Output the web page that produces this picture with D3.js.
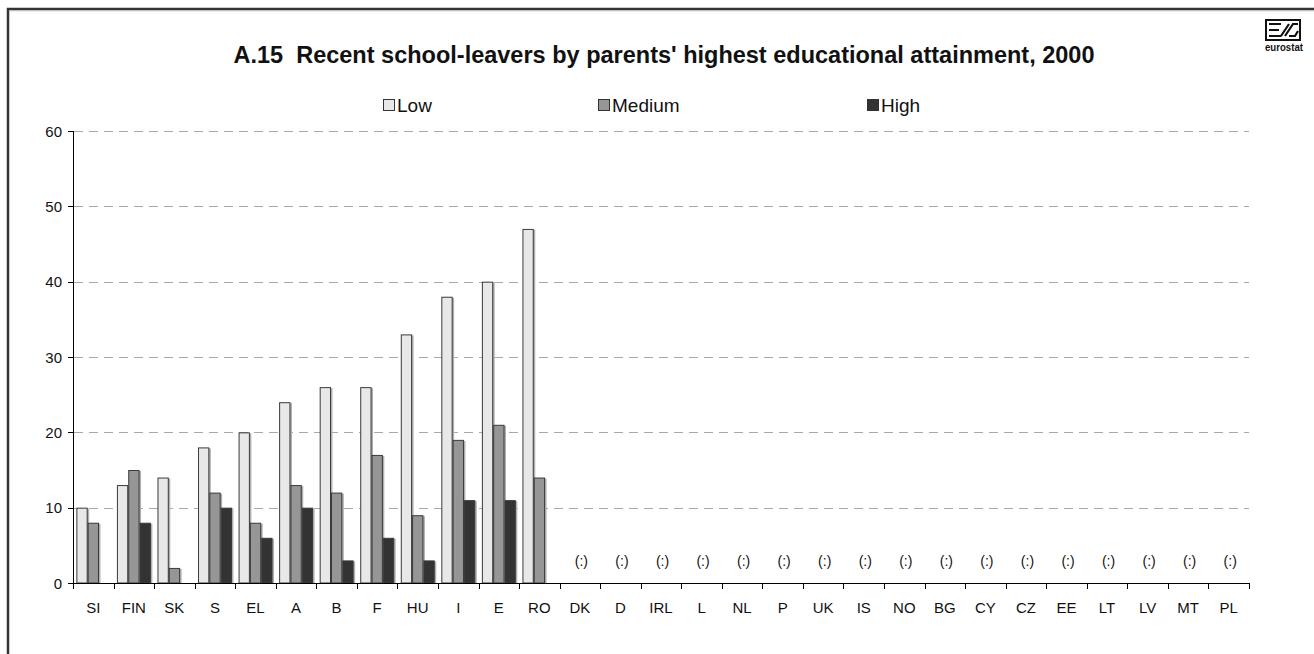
<!DOCTYPE html>
<html>
<head>
<meta charset="utf-8">
<script src="https://cdn.jsdelivr.net/npm/d3@7"></script>
<style>
  html, body { margin: 0; padding: 0; background: #fff; }
  svg { display: block; font-family: "Liberation Sans", Arial, sans-serif; }
  text { white-space: pre; }
</style>
</head>
<body>
<svg id="chart" width="1314" height="654"></svg>
<script>
// Countries in display order
const countries = ["SI","FIN","SK","S","EL","A","B","F","HU","I","E","RO",
  "DK","D","IRL","L","NL","P","UK","IS","NO","BG","CY","CZ","EE","LT","LV","MT","PL"];

// Share of recent school-leavers by parents' attainment level (null = not available)
const lowValues    = [10,13,14,18,20,24,26,26,33,38,40,47, null,null,null,null,null,null,null,null,null,null,null,null,null,null,null,null,null];
const mediumValues = [8,15,2,12,8,13,12,17,9,19,21,14,     null,null,null,null,null,null,null,null,null,null,null,null,null,null,null,null,null];
const highValues   = [null,8,null,10,6,10,3,6,3,11,11,null, null,null,null,null,null,null,null,null,null,null,null,null,null,null,null,null,null];

const seriesNames = ["Low", "Medium", "High"];
const yTicks = [0, 10, 20, 30, 40, 50, 60];
const missingLabel = "(:)";

const colors = { Low: "#e8e8e8", Medium: "#969696", High: "#333333" };
const seriesValues = { Low: lowValues, Medium: mediumValues, High: highValues };

const svg = d3.select("#chart");

// Outer frame
svg.append("rect")
  .attr("x", 8).attr("y", 9).attr("width", 1330).attr("height", 680)
  .attr("fill", "none").attr("stroke", "#333").attr("stroke-width", 2.5);
svg.append("line")
  .attr("x1", 9.5).attr("x2", 1314).attr("y1", 10.8).attr("y2", 10.8)
  .attr("stroke", "#bbb").attr("stroke-width", 1);

// Title
svg.append("text")
  .attr("x", 664).attr("y", 63)
  .attr("text-anchor", "middle")
  .attr("font-weight", "bold").attr("font-size", 23.5).attr("fill", "#111")
  .text("A.15  Recent school-leavers by parents' highest educational attainment, 2000");

// Logo
const logo = svg.append("g").attr("transform", "translate(1265,19)");
logo.append("rect").attr("x", 1).attr("y", 1).attr("width", 34).attr("height", 20)
  .attr("fill", "#fff").attr("stroke", "#111").attr("stroke-width", 2);
logo.append("path")
  .attr("d", "M4,5 H16 M4,11 H14 M4,17 H16 M16,17 L24,5 M20,17 L28,5 H33 M24,17 H30 L33,12")
  .attr("fill", "none").attr("stroke", "#111").attr("stroke-width", 2.2);
logo.append("text").attr("x", 19).attr("y", 32).attr("text-anchor", "middle")
  .attr("font-weight", "bold").attr("font-size", 10.5).attr("fill", "#111")
  .attr("textLength", 38).attr("lengthAdjust", "spacingAndGlyphs")
  .text("eurostat");

// Scales
const x0 = d3.scaleBand().domain(countries).range([73, 1249]).paddingInner(0).paddingOuter(0);
const bw = x0.bandwidth();
const x1 = d3.scaleBand().domain(seriesNames).range([bw * 0.083, bw * 0.92]).padding(0);
const y = d3.scaleLinear().domain([0, 60]).range([583, 131]);

// Gridlines
svg.append("g").selectAll("line")
  .data(yTicks.filter(t => t > 0))
  .join("line")
  .attr("x1", 74).attr("x2", 1249)
  .attr("y1", d => Math.round(y(d)) + 0.5).attr("y2", d => Math.round(y(d)) + 0.5)
  .attr("stroke", "#a8a8a8").attr("stroke-width", 1)
  .attr("stroke-dasharray", "9,6");

// Bars
const groups = svg.append("g").selectAll("g")
  .data(countries.map((c, i) => ({ c, i })))
  .join("g")
  .attr("transform", d => `translate(${x0(d.c)},0)`);

groups.selectAll("g.bar")
  .data(d => seriesNames.map(s => ({ s, v: seriesValues[s][d.i] })).filter(e => e.v != null))
  .join("g").attr("class", "bar")
  .each(function(e) {
    const g = d3.select(this);
    const bx = x1(e.s), top = y(e.v), w = x1.bandwidth();
    g.append("rect")
      .attr("x", bx + 1.5).attr("y", top + 1)
      .attr("width", w).attr("height", y(0) - top - 1)
      .attr("fill", "#b0b0b0");
    g.append("rect")
      .attr("x", bx + 0.5).attr("y", top + 0.5)
      .attr("width", w - 1).attr("height", y(0) - top - 0.5)
      .attr("fill", colors[e.s]).attr("stroke", "#3a3a3a").attr("stroke-width", 1);
  });

// Missing-data markers
svg.append("g").selectAll("text")
  .data(countries.filter((c, i) => seriesNames.every(s => seriesValues[s][i] == null)))
  .join("text")
  .attr("x", d => x0(d) + bw / 2 + 1.5)
  .attr("y", 566)
  .attr("text-anchor", "middle")
  .attr("font-size", 14).attr("fill", "#111")
  .text(missingLabel);

// Y axis
const yAxis = svg.append("g");
yAxis.append("line").attr("x1", 73.5).attr("x2", 73.5).attr("y1", y(60)).attr("y2", y(0) + 5)
  .attr("stroke", "#000").attr("stroke-width", 1);
yAxis.selectAll("line.tick").data(yTicks).join("line").attr("class", "tick")
  .attr("x1", 68).attr("x2", 73)
  .attr("y1", d => Math.round(y(d)) + 0.5).attr("y2", d => Math.round(y(d)) + 0.5)
  .attr("stroke", "#000");
yAxis.selectAll("text").data(yTicks).join("text")
  .attr("x", 62).attr("y", d => y(d) + 5.5)
  .attr("text-anchor", "end").attr("font-size", 15).attr("fill", "#111")
  .text(d => d);

// X axis
const xAxis = svg.append("g");
xAxis.append("line").attr("x1", 68).attr("x2", 1249).attr("y1", 583.5).attr("y2", 583.5)
  .attr("stroke", "#000");
xAxis.selectAll("line.tick").data(countries.concat(["__end"])).join("line").attr("class", "tick")
  .attr("x1", (d, i) => Math.round(73 + i * bw) + 0.5)
  .attr("x2", (d, i) => Math.round(73 + i * bw) + 0.5)
  .attr("y1", 583).attr("y2", 589)
  .attr("stroke", "#000");
xAxis.selectAll("text").data(countries).join("text")
  .attr("x", d => x0(d) + bw / 2).attr("y", 613)
  .attr("text-anchor", "middle").attr("font-size", 15).attr("fill", "#111")
  .text(d => d);

// Legend
const legendX = [383, 598, 867];
const legend = svg.append("g").selectAll("g").data(seriesNames).join("g")
  .attr("transform", (d, i) => `translate(${legendX[i]},99)`);
legend.append("rect").attr("x", 0.5).attr("y", 0.5).attr("width", 11).attr("height", 11)
  .attr("fill", d => colors[d]).attr("stroke", "#333");
legend.append("text").attr("x", 14).attr("y", 12.5).attr("font-size", 19).attr("fill", "#111")
  .text(d => d);
</script>
</body>
</html>
